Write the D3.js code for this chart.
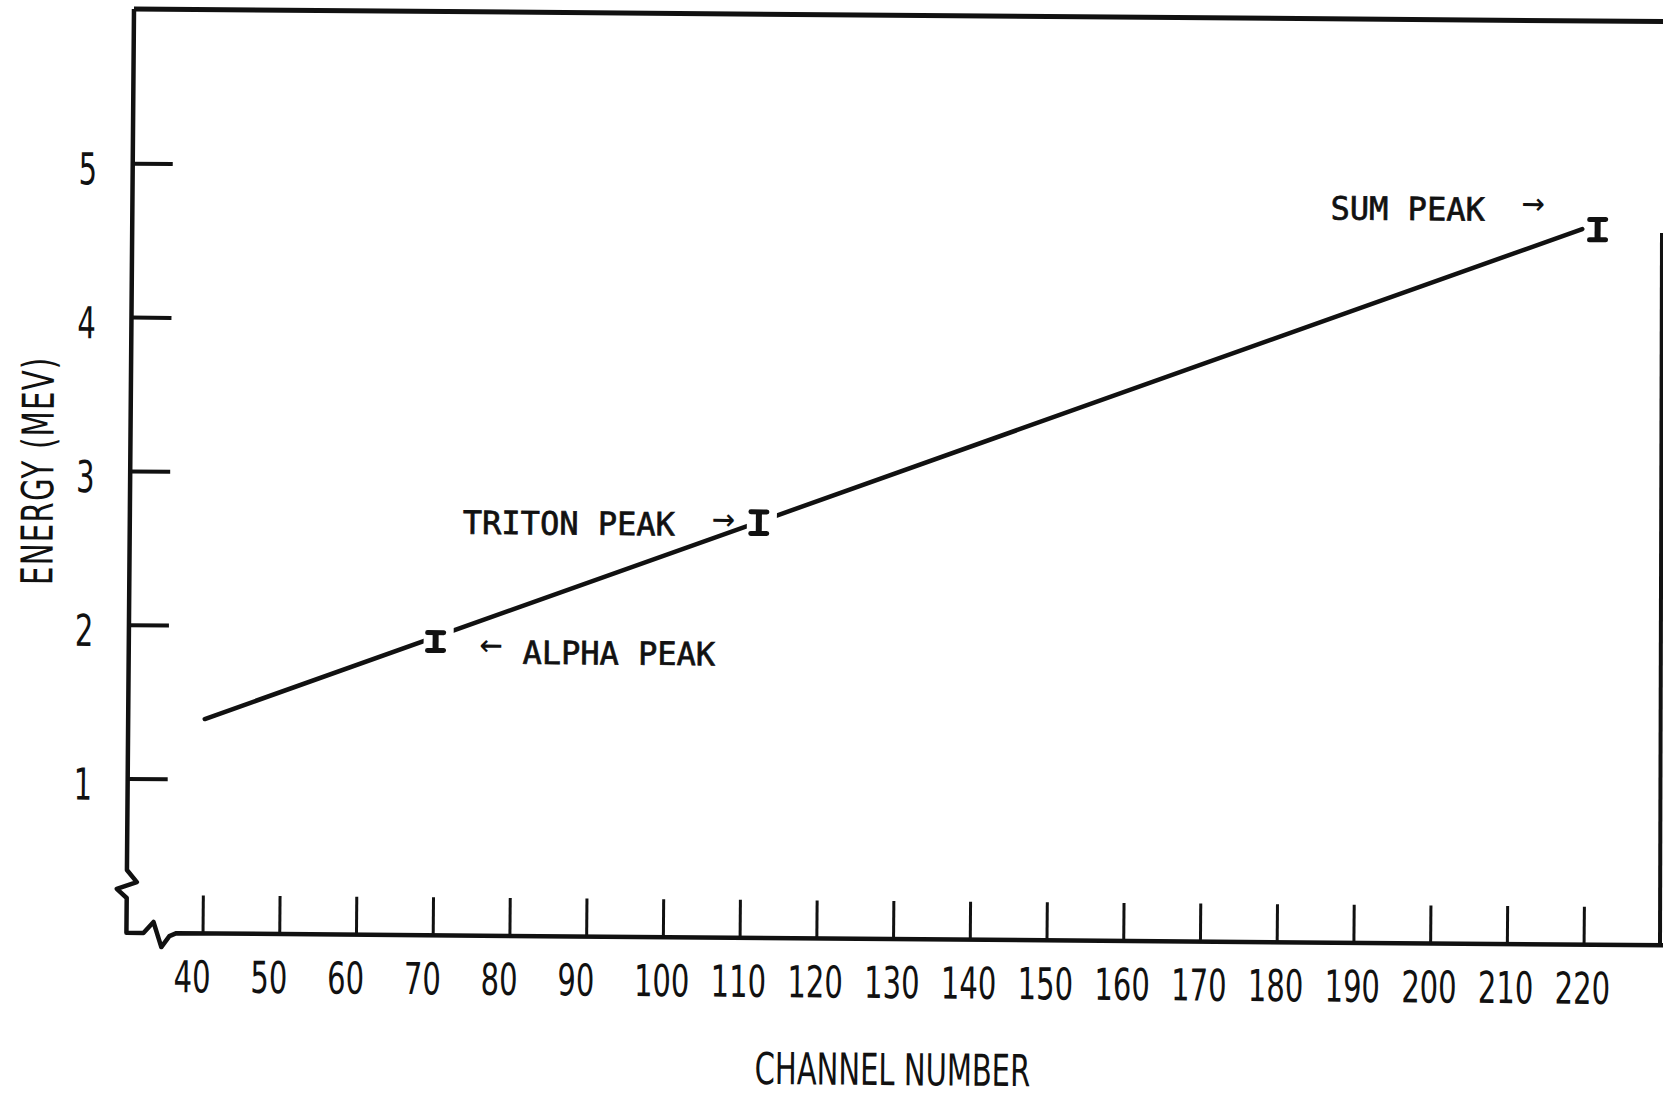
<!DOCTYPE html>
<html>
<head>
<meta charset="utf-8">
<script src="https://cdn.jsdelivr.net/npm/d3@7"></script>
<style>
body { margin:0; background:#fff; }
text { fill:#111; }
.lbl { font-family:"DejaVu Sans", sans-serif; font-size:44px; }
.note { font-family:"DejaVu Sans Mono", monospace; font-size:32px; stroke:#111; stroke-width:0.7px; }
.arrow { font-family:"DejaVu Sans Mono", monospace; font-size:38px; }
</style>
</head>
<body>
<div id="chart"></div>
<script>
// Values
var xTickValues = [40, 50, 60, 70, 80, 90, 100, 110, 120, 130, 140, 150, 160, 170, 180, 190, 200, 210, 220];
var yTickValues = [1, 2, 3, 4, 5];

var peakNames = ["ALPHA PEAK", "TRITON PEAK", "SUM PEAK"];
var peakChannel = [70, 112, 221];
var peakEnergy = [1.91, 2.70, 4.65];
var peakError = [0.058, 0.07, 0.066];

// calibration line (ends)
var fitChannel = [40, 219];
var fitEnergy = [1.394, 4.653];

var width = 1663, height = 1097;
var ink = "#111";

var svg = d3.select("#chart").append("svg")
  .attr("width", width)
  .attr("height", height)

// the scanned sheet is a bit tilted, so turn the whole frame a little
var g = svg.append("g")
  .attr("transform", "translate(134,9) rotate(0.47)")

var x = d3.scaleLinear().domain([40, 220]).range([76.6, 1457.7]);
var y = d3.scaleLinear().domain([0, 5]).range([923.8, 154.8]);
var y0 = y(0);

// Frame: top border, left axis with break, bottom axis with break
g.append("path")
  .attr("d", "M0,0 H1560")
  .attr("stroke", ink).attr("stroke-width", 5).attr("fill", "none")

g.append("path")
  .attr("d", "M0,0 V861 L10,873 L-10,880 L0,889 V" + y0 +
             " H17 L27," + (y0 - 11) + " L35," + (y0 + 14) + " L43," + (y0 + 3) + " L50," + y0 + " H1560")
  .attr("stroke", ink).attr("stroke-width", 4.5).attr("fill", "none")
  .attr("stroke-linejoin", "round")

// right border is not tilted on the scan
svg.append("line")
  .attr("x1", 1662).attr("y1", 233).attr("x2", 1660).attr("y2", 944)
  .attr("stroke", ink).attr("stroke-width", 4)

// y ticks
g.selectAll(".ytick").data(yTickValues).enter().append("line")
  .attr("class", "ytick")
  .attr("x1", 0).attr("x2", 40)
  .attr("y1", function(d){ return y(d) }).attr("y2", function(d){ return y(d) })
  .attr("stroke", ink).attr("stroke-width", 4)

g.selectAll(".ylab").data(yTickValues).enter().append("text")
  .attr("class", "lbl ylab")
  .attr("transform", function(d){ return "translate(-54," + (y(d) + 21) + ") scale(0.66,1)" })
  .text(function(d){ return d })

// x ticks
g.selectAll(".xtick").data(xTickValues).enter().append("line")
  .attr("class", "xtick")
  .attr("x1", function(d){ return x(d) }).attr("x2", function(d){ return x(d) })
  .attr("y1", y0).attr("y2", y0 - 38)
  .attr("stroke", ink).attr("stroke-width", 3)

g.selectAll(".xlab").data(xTickValues).enter().append("text")
  .attr("class", "lbl xlab")
  .attr("transform", function(d){ return "translate(" + (x(d) - 29) + "," + (y0 + 59) + ") scale(0.66,1)" })
  .text(function(d){ return d })

// axis titles
g.append("text")
  .attr("class", "lbl")
  .attr("text-anchor", "middle")
  .attr("transform", "translate(" + x(130) + "," + (y0 + 146) + ") scale(0.66,1)")
  .text("CHANNEL NUMBER")

g.append("text")
  .attr("class", "lbl")
  .attr("text-anchor", "middle")
  .attr("letter-spacing", 2)
  .attr("transform", "translate(-77," + y(3) + ") rotate(-90) scale(0.66,1)")
  .text("ENERGY (MEV)")

// calibration line
var line = d3.line()
  .x(function(d){ return x(d[0]) })
  .y(function(d){ return y(d[1]) })

g.append("path")
  .datum(d3.zip(fitChannel, fitEnergy))
  .attr("d", line)
  .attr("stroke", ink).attr("stroke-width", 4.5).attr("fill", "none")
  .attr("stroke-linecap", "round")

// peaks with error bars (white gap around each bar)
var peaks = peakNames.map(function(n, i){
  return {name: n, c: peakChannel[i], e: peakEnergy[i], err: peakError[i]}
})

var pg = g.selectAll(".peak").data(peaks).enter().append("g")
  .attr("class", "peak")
  .attr("transform", function(d){ return "translate(" + x(d.c) + "," + y(d.e) + ")" })

pg.append("rect")
  .attr("x", -12).attr("width", 30)
  .attr("y", -16).attr("height", 32)
  .attr("fill", "#fff")

pg.append("line")
  .attr("x1", 0).attr("x2", 0)
  .attr("y1", function(d){ return y(d.e + d.err) - y(d.e) })
  .attr("y2", function(d){ return y(d.e - d.err) - y(d.e) })
  .attr("stroke", ink).attr("stroke-width", 6)

pg.selectAll(".cap").data(function(d){ return [d.e + d.err, d.e - d.err].map(function(v){ return y(v) - y(d.e) }) })
  .enter().append("line")
  .attr("x1", -8).attr("x2", 8)
  .attr("y1", function(d){ return d }).attr("y2", function(d){ return d })
  .attr("stroke", ink).attr("stroke-width", 5)
  .attr("stroke-linecap", "round")

// labels next to the peaks
var noteLayout = [
  {anchor: "start", dx: 87, dy: 21.5, arrow: "\u2190", aAnchor: "start", ax: 44, ay: 3.5},
  {anchor: "end", dx: -84, dy: 13.5, arrow: "\u2192", aAnchor: "end", ax: -24, ay: -2.5},
  {anchor: "end", dx: -113, dy: -8, arrow: "\u2192", aAnchor: "end", ax: -53, ay: -25}
]

pg.append("text")
  .attr("class", "note")
  .attr("text-anchor", function(d, i){ return noteLayout[i].anchor })
  .attr("x", function(d, i){ return noteLayout[i].dx })
  .attr("y", function(d, i){ return noteLayout[i].dy })
  .text(function(d){ return d.name })

pg.append("text")
  .attr("class", "arrow")
  .attr("text-anchor", function(d, i){ return noteLayout[i].aAnchor })
  .attr("x", function(d, i){ return noteLayout[i].ax })
  .attr("y", function(d, i){ return noteLayout[i].ay + 11 })
  .text(function(d, i){ return noteLayout[i].arrow })
</script>
</body>
</html>
